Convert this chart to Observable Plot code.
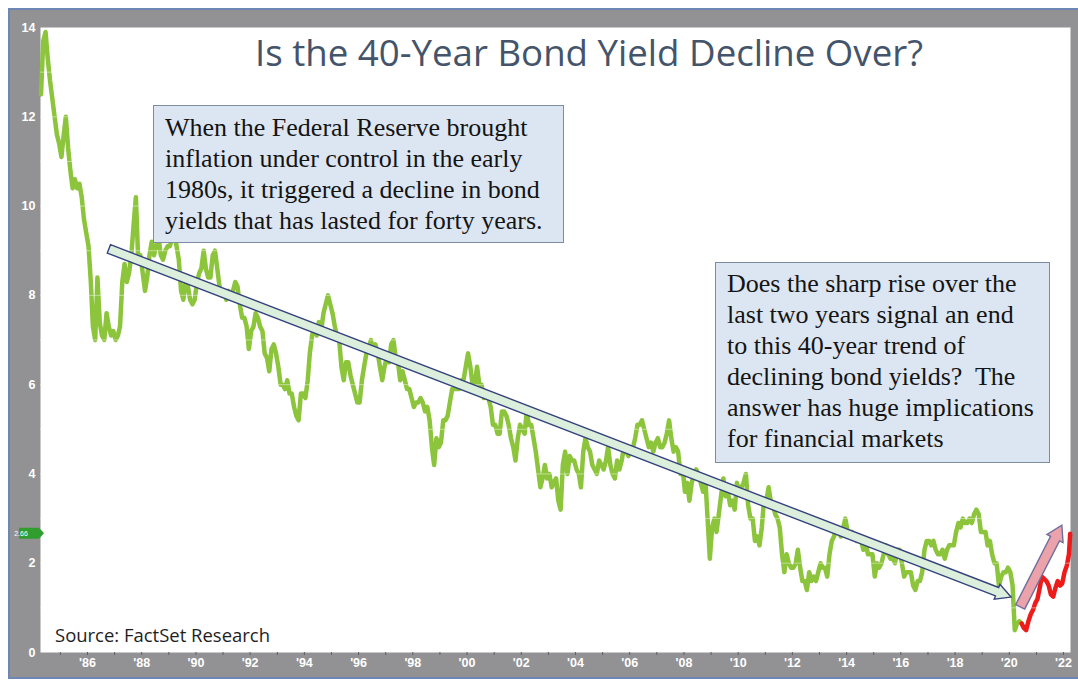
<!DOCTYPE html>
<html><head><meta charset="utf-8">
<script src="https://cdn.jsdelivr.net/npm/d3@7"></script>
<script src="https://cdn.jsdelivr.net/npm/@observablehq/plot@0.6"></script>
<style>
html,body{margin:0;padding:0;background:#fff;width:1078px;height:681px;overflow:hidden}
#wrap{position:relative;width:1078px;height:681px;overflow:hidden}
#frame{position:absolute;left:8px;top:8px;width:1080px;height:671px;background:#929294;border-left:2px solid #6d86b6;border-top:2px solid #6d86b6;border-bottom:2px solid #6d86b6;box-sizing:border-box}
#chart{position:absolute;left:0;top:0}
#chart svg{background:transparent}
.box{position:absolute;background:#dce6f2;border:1.5px solid #7d8ca3;font-family:"Liberation Serif","Times New Roman",serif;font-size:26px;line-height:31px;color:#141414;white-space:nowrap;box-sizing:border-box}
#over{position:absolute;left:0;top:0;pointer-events:none}
</style></head><body>
<div id="wrap">
<div id="frame"></div>
<div id="chart"></div>
<svg id="over" width="1078" height="681">
<text x="255" y="66" textLength="668" lengthAdjust="spacingAndGlyphs" font-family="Open Sans" font-size="37" fill="#44546a">Is the 40-Year Bond Yield Decline Over?</text>
<text x="55" y="642" textLength="215" lengthAdjust="spacingAndGlyphs" font-family="Open Sans" font-size="19" fill="#1e1e1e">Source:  FactSet Research</text>
</svg>
<div class="box" style="left:153px;top:105px;width:411px;height:138px;padding:6px 0 0 11px">When the Federal Reserve brought<br>inflation under control in the early<br>1980s, it triggered a decline in bond<br>yields that has lasted for forty years.</div>
<div class="box" style="left:715px;top:262px;width:335px;height:201px;padding:5px 0 0 11px">Does the sharp rise over the<br>last two years signal an end<br>to this 40-year trend of<br>declining bond yields?&nbsp; The<br>answer has huge implications<br>for financial markets</div>
</div>
<script>
// ---- data (10-year bond yield, %, monthly) ----
const greenStart = [1984, 3]; // April 1984 (month index 3)
const green1984 = [12.5, 13.7, 13.9, 13.3, 12.8, 12.4, 12.0, 11.6, 11.4];
const green1985_1994 = [
  11.1, 11.6, 12.0, 11.3, 10.8, 10.4, 10.6, 10.4, 10.5, 10.2, 9.7, 9.4,
  9.1, 8.3, 7.3, 7.0, 8.4, 7.4, 7.1, 7.0, 7.6, 7.3, 7.1, 7.2,
  7.0, 7.1, 7.3, 8.3, 8.7, 8.3, 8.5, 8.9, 9.6, 10.2, 8.8, 8.9,
  8.5, 8.1, 8.4, 8.9, 9.2, 8.9, 9.1, 9.3, 8.9, 8.8, 9.0, 9.1,
  9.1, 9.3, 9.4, 9.1, 8.8, 8.1, 7.9, 8.3, 8.2, 7.9, 7.8, 7.9,
  8.3, 8.5, 8.6, 9.0, 8.6, 8.4, 8.4, 8.9, 9.0, 8.6, 8.2, 8.0,
  8.1, 7.9, 8.1, 8.0, 8.1, 8.3, 8.2, 7.8, 7.5, 7.5, 7.3, 6.8,
  7.2, 7.3, 7.6, 7.5, 7.3, 7.2, 6.7, 6.6, 6.3, 6.8, 6.9, 6.7,
  6.4, 6.0, 6.0, 5.9, 6.1, 5.8, 5.8, 5.5, 5.3, 5.2, 5.8, 5.8,
  5.7, 6.1, 6.7, 7.1, 7.3, 7.1, 7.4, 7.2, 7.6, 7.8, 8.0, 7.8
];
const green1995_2004 = [
  7.6, 7.3, 7.1, 7.0, 6.4, 6.1, 6.5, 6.5, 6.2, 6.0, 5.8, 5.6,
  5.6, 6.1, 6.4, 6.7, 6.8, 7.0, 6.8, 6.9, 6.7, 6.4, 6.1, 6.4,
  6.6, 6.5, 6.9, 7.0, 6.6, 6.5, 6.1, 6.3, 6.1, 5.9, 5.9, 5.7,
  5.5, 5.6, 5.6, 5.7, 5.6, 5.4, 5.5, 5.2, 4.6, 4.2, 4.8, 4.6,
  4.7, 5.2, 5.2, 5.3, 5.6, 5.9, 5.9, 5.9, 5.9, 6.1, 6.1, 6.4,
  6.7, 6.4, 6.0, 6.0, 6.4, 6.0, 6.0, 5.7, 5.8, 5.7, 5.5, 5.1,
  5.1, 4.9, 4.9, 5.4, 5.4, 5.3, 5.1, 4.8, 4.6, 4.3, 4.8, 5.1,
  5.0, 4.9, 5.4, 5.1, 5.1, 4.8, 4.5, 4.1, 3.7, 3.9, 4.2, 3.9,
  4.0, 3.7, 3.8, 3.9, 3.4, 3.2, 4.2, 4.5, 4.0, 4.4, 4.3, 4.3,
  4.1, 4.0, 3.7, 4.5, 4.8, 4.6, 4.5, 4.2, 4.1, 4.0, 4.3, 4.2
];
const green2005_2014 = [
  4.1, 4.3, 4.6, 4.2, 4.0, 3.9, 4.3, 4.1, 4.3, 4.6, 4.5, 4.4,
  4.5, 4.6, 4.8, 5.1, 5.1, 5.2, 5.0, 4.8, 4.6, 4.7, 4.5, 4.7,
  4.8, 4.6, 4.6, 4.7, 4.9, 5.2, 4.8, 4.5, 4.6, 4.5, 4.0, 4.1,
  3.6, 3.8, 3.4, 3.8, 4.0, 4.1, 4.0, 3.8, 3.6, 3.9, 3.0, 2.1,
  2.8, 3.0, 2.7, 3.1, 3.5, 3.9, 3.5, 3.6, 3.3, 3.4, 3.2, 3.8,
  3.6, 3.7, 3.8, 4.0, 3.3, 3.0, 3.0, 2.5, 2.6, 2.4, 2.8, 3.4,
  3.4, 3.7, 3.4, 3.3, 3.1, 3.0, 2.8, 2.2, 1.8, 2.2, 2.0, 1.9,
  1.9, 2.0, 2.3, 1.9, 1.6, 1.6, 1.4, 1.8, 1.6, 1.7, 1.6, 1.8,
  2.0, 1.9, 1.9, 1.7, 2.2, 2.5, 2.6, 2.8, 2.7, 2.6, 2.8, 3.0,
  2.7, 2.7, 2.7, 2.6, 2.5, 2.6, 2.5, 2.3, 2.5, 2.2, 2.2, 2.2
];
const green2015_2020 = [
  1.7, 2.0, 1.9, 2.0, 2.2, 2.4, 2.2, 2.1, 2.1, 2.0, 2.3, 2.3,
  2.0, 1.7, 1.8, 1.8, 1.8, 1.5, 1.4, 1.6, 1.6, 1.8, 2.3, 2.5,
  2.5, 2.4, 2.5, 2.3, 2.2, 2.2, 2.3, 2.1, 2.3, 2.4, 2.4, 2.4,
  2.7, 2.9, 2.8, 3.0, 2.9, 2.9, 3.0, 2.9, 3.1, 3.2, 3.1, 2.7,
  2.7, 2.7, 2.4, 2.5, 2.2, 2.0, 2.0, 1.5, 1.7, 1.8, 1.8, 1.9,
  1.8, 1.5, 0.5, 0.65, 0.7, 0.65
];
const redStart = [2020, 5]; // June 2020
const redYields = [0.65, 0.55, 0.5, 0.7, 0.85, 0.95, 1.1, 1.2, 1.45, 1.7, 1.65, 1.6,
  1.5, 1.3, 1.25, 1.45, 1.6, 1.5, 1.55, 1.8, 1.95, 2.2];
const lastDate = "2022-04-01";
const lastYield = 2.66;

const yTicks = [0, 2, 4, 6, 8, 10, 12, 14];
const xLabelYears = d3.range(1986, 2023, 2);
const xMinorYears = d3.range(1985, 2023, 1);
const gridValues = d3.range(1, 14, 1);

// annotation arrows (data coordinates)
const trendArrow = {from: ["1986-10-23", 9.03], to: ["2020-02-01", 1.23]};
const riseArrow = {from: ["2020-06-03", 1.01], to: ["2021-12-16", 2.84]};

// ---- build tables ----
function monthly(start, values) {
  return values.map((v, i) => ({date: new Date(Date.UTC(start[0], start[1] + i, 15)), value: v}));
}
const green = monthly(greenStart, [...green1984, ...green1985_1994, ...green1995_2004, ...green2005_2014, ...green2015_2020]);
const red = monthly(redStart, redYields).concat([{date: new Date(lastDate), value: lastYield}]);

function blockArrow(a, fill, stroke, shaftHalf, headHalf, headLen) {
  return (index, scales) => {
    const X = scales.x, Y = scales.y;
    const x0 = X(new Date(a.from[0])), y0 = Y(a.from[1]);
    const x1 = X(new Date(a.to[0])), y1 = Y(a.to[1]);
    const dx = x1 - x0, dy = y1 - y0, L = Math.hypot(dx, dy);
    const ux = dx / L, uy = dy / L, px = -uy, py = ux;
    const bx = x1 - ux * headLen, by = y1 - uy * headLen;
    const pts = [
      [x0 + px * shaftHalf, y0 + py * shaftHalf],
      [bx + px * shaftHalf, by + py * shaftHalf],
      [bx + px * headHalf, by + py * headHalf],
      [x1, y1],
      [bx - px * headHalf, by - py * headHalf],
      [bx - px * shaftHalf, by - py * shaftHalf],
      [x0 - px * shaftHalf, y0 - py * shaftHalf]
    ];
    return d3.create("svg:path")
      .attr("d", "M" + pts.map(p => p.join(",")).join("L") + "Z")
      .attr("fill", fill).attr("stroke", stroke).attr("stroke-width", 1.4)
      .node();
  };
}

function valueTag(v) {
  return (index, scales) => {
    const y = scales.y(v);
    const g = d3.create("svg:g");
    g.append("path")
      .attr("d", `M19,${y - 5.5}H39L44,${y}L39,${y + 5.5}H19Z`)
      .attr("fill", "#2f9e2f");
    g.append("text").attr("x", 21).attr("y", y).attr("dy", "0.35em")
      .attr("font-size", 7).attr("fill", "white").attr("font-family", "Liberation Sans")
      .text(v.toFixed(2));
    return g.node();
  };
}

const chart = Plot.plot({
  width: 1078,
  height: 681,
  marginLeft: 40,
  marginRight: 8,
  marginTop: 27,
  marginBottom: 29,
  style: {background: "transparent", fontFamily: "Liberation Sans", overflow: "visible"},
  x: {type: "utc", domain: [new Date("1984-04-08"), new Date("2022-04-05")], label: null},
  y: {domain: [0, 14], label: null},
  marks: [
    Plot.frame({fill: "white", stroke: null}),
    Plot.line(green, {x: "date", y: "value", stroke: "#8cc43c", strokeWidth: 4.5, strokeLinejoin: "round"}),
    Plot.line(red, {x: "date", y: "value", stroke: "#ee1b1b", strokeWidth: 4.5, strokeLinejoin: "round"}),
    Plot.ruleY(gridValues, {stroke: "white", strokeWidth: 1, strokeOpacity: 0.45}),
    blockArrow(trendArrow, "#dcefdc", "#34427e", 4.5, 8, 15),
    blockArrow(riseArrow, "#eca2aa", "#6f6f9c", 5, 9, 15),
    Plot.axisY({ticks: yTicks, tickSize: 0, tickPadding: 5, color: "white", fontWeight: "bold", fontSize: 12.5, label: null}),
    Plot.axisX({ticks: xMinorYears.map(y => new Date(Date.UTC(y, 0, 1))), tickSize: 3, tickFormat: () => "", stroke: "#5e5e60", label: null}),
    Plot.axisX({ticks: xLabelYears.map(y => new Date(Date.UTC(y, 0, 1))), tickSize: 0, tickPadding: 6,
      tickFormat: d => "'" + String(d.getUTCFullYear()).slice(2), color: "white", fontWeight: "bold", fontSize: 12.5, label: null}),
    valueTag(lastYield)
  ]
});
document.getElementById("chart").appendChild(chart);
</script>
</body></html>
